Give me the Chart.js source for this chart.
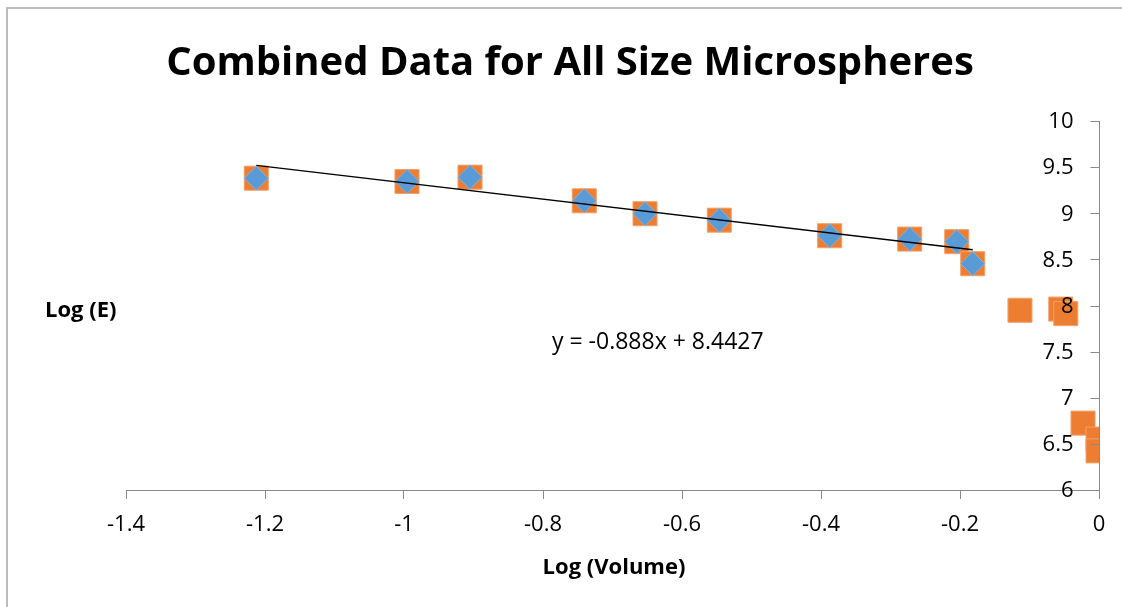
<!DOCTYPE html>
<html><head><meta charset="utf-8">
<script src="https://cdn.jsdelivr.net/npm/chart.js@4/dist/chart.umd.min.js"></script>
<style>html,body{margin:0;padding:0;background:#fff;overflow:hidden;width:1122px;height:607px}canvas{display:block}</style>
</head><body>
<canvas id="c" width="1122" height="607" style="width:1122px;height:607px"></canvas>
<script>
// Data
const diamondX = [-1.2125, -0.9957, -0.905, -0.7406, -0.6532, -0.5463, -0.3875, -0.2724, -0.2047, -0.1817];
const diamondY = [9.380, 9.344, 9.391, 9.135, 8.995, 8.925, 8.756, 8.720, 8.692, 8.453];
const squareX = [-1.2125, -0.9957, -0.905, -0.7406, -0.6532, -0.5463, -0.3875, -0.2724, -0.2047, -0.1817, -0.1137, -0.055, -0.0478, -0.023, -0.0014, -0.0014];
const squareY = [9.380, 9.344, 9.391, 9.135, 8.995, 8.925, 8.756, 8.720, 8.692, 8.453, 7.948, 7.961, 7.912, 6.725, 6.552, 6.424];
const trendX = [-1.2125, -0.1817];
const trendY = [9.519, 8.604];
const xTickValues = [-1.4, -1.2, -1, -0.8, -0.6, -0.4, -0.2, 0];
const xTickLabels = ['-1.4', '-1.2', '-1', '-0.8', '-0.6', '-0.4', '-0.2', '0'];
const yTickValues = [6, 6.5, 7, 7.5, 8, 8.5, 9, 9.5, 10];
const yTickLabels = ['6', '6.5', '7', '7.5', '8', '8.5', '9', '9.5', '10'];
const titleText = 'Combined Data for All Size Microspheres';
const xTitle = 'Log (Volume)';
const yTitle = 'Log (E)';
const equationText = 'y = -0.888x + 8.4427';

const FONT = '"Open Sans", "DejaVu Sans", sans-serif';
const AXIS_COLOR = '#898989';
const zip = (xs, ys) => xs.map((x, i) => ({x, y: ys[i]}));

const decor = {
  id: 'decor',
  beforeDraw(chart) {
    const ctx = chart.ctx;
    ctx.save();
    ctx.fillStyle = '#fff';
    ctx.fillRect(0, 0, chart.width, chart.height);
    // outer frame: only the left and top edges are inside the picture
    ctx.fillStyle = '#bdbdbd';
    ctx.fillRect(6, 7, 2, chart.height - 7);
    ctx.fillRect(6, 7, chart.width - 6, 2);
    ctx.restore();
  },
  afterDatasetsDraw(chart) {
    // y-axis ticks and labels, placed through the y scale, on the left of the axis line
    const ctx = chart.ctx;
    const ys = chart.scales.y;
    const axisX = Math.round(chart.scales.x.getPixelForValue(0)) + 0.5;
    ctx.save();
    ctx.strokeStyle = AXIS_COLOR;
    ctx.lineWidth = 1;
    ctx.beginPath();
    yTickValues.forEach(v => {
      const py = Math.round(ys.getPixelForValue(v)) + 0.5;
      ctx.moveTo(axisX - 9, py);
      ctx.lineTo(axisX, py);
    });
    ctx.stroke();
    ctx.fillStyle = '#000';
    ctx.font = '22px ' + FONT;
    ctx.textAlign = 'right';
    ctx.textBaseline = 'middle';
    yTickValues.forEach((v, i) => {
      ctx.fillText(yTickLabels[i], axisX - 26, ys.getPixelForValue(v) + 1);
    });
    ctx.restore();
  },
  afterDraw(chart) {
    const ctx = chart.ctx;
    ctx.save();
    ctx.fillStyle = '#000';
    ctx.textBaseline = 'alphabetic';
    ctx.textAlign = 'center';
    ctx.font = 'bold 40px ' + FONT;
    ctx.fillText(titleText, 570, 75);
    ctx.font = 'bold 22px ' + FONT;
    ctx.textAlign = 'left';
    ctx.fillText(yTitle, 45, 317);
    ctx.textAlign = 'center';
    ctx.fillText(xTitle, 614, 574);
    ctx.font = '23px ' + FONT;
    ctx.textAlign = 'left';
    ctx.fillText(equationText, 552, 349);
    ctx.restore();
  }
};

new Chart(document.getElementById('c'), {
  type: 'scatter',
  data: {
    datasets: [
      {
        type: 'line', data: zip(trendX, trendY), borderColor: '#000', borderWidth: 1.5,
        pointRadius: 0, fill: false, order: 0
      },
      {
        data: zip(diamondX, diamondY), pointStyle: 'rectRot', pointRadius: 12,
        backgroundColor: '#5B9BD5', borderColor: '#7FB2E0', borderWidth: 1, order: 1
      },
      {
        data: zip(squareX, squareY), pointStyle: 'rect', pointRadius: 17,
        backgroundColor: '#ED7D31', borderColor: '#F3A06A', borderWidth: 1, order: 2
      }
    ]
  },
  options: {
    responsive: false,
    maintainAspectRatio: false,
    animation: false,
    devicePixelRatio: 1,
    layout: {padding: {left: 126, right: 23, top: 121, bottom: 117}},
    plugins: {legend: {display: false}, tooltip: {enabled: false}, title: {display: false}},
    scales: {
      x: {
        type: 'linear', min: -1.4, max: 0, position: {y: 6},
        afterBuildTicks: s => { s.ticks = xTickValues.map(v => ({value: v})); },
        ticks: {callback: (v, i) => xTickLabels[i], color: '#000', font: {family: FONT, size: 22}, padding: 14, maxRotation: 0, autoSkip: false},
        grid: {drawOnChartArea: false, drawTicks: true, tickLength: 8, color: AXIS_COLOR},
        border: {color: AXIS_COLOR, width: 1}
      },
      y: {
        type: 'linear', min: 6, max: 10, position: {x: 0},
        afterBuildTicks: s => { s.ticks = yTickValues.map(v => ({value: v})); },
        ticks: {display: false},
        grid: {drawOnChartArea: false, drawTicks: false, color: AXIS_COLOR},
        border: {color: AXIS_COLOR, width: 1}
      }
    }
  },
  plugins: [decor]
});
</script>
</body></html>
